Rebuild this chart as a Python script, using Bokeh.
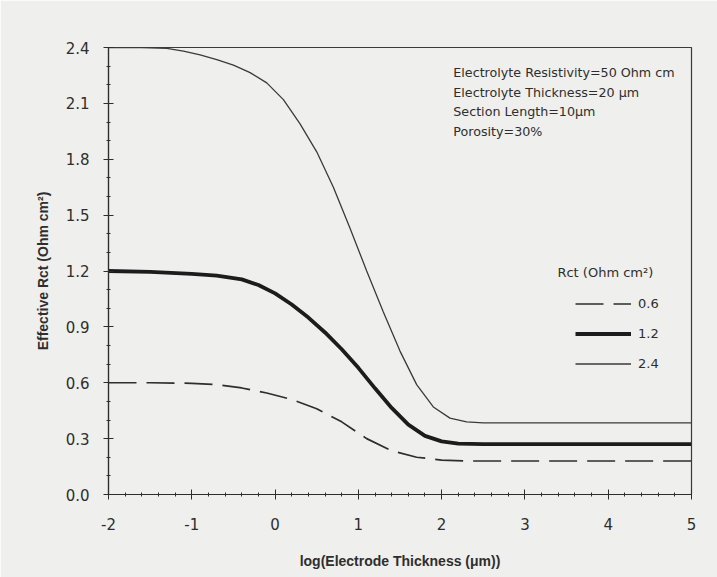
from bokeh.plotting import figure
from bokeh.models import (FixedTicker, Legend, LegendItem, Label, SingleIntervalTicker)
from bokeh.embed import file_html
from bokeh.resources import INLINE

# ---- data ----
x_24 = [-2, -1.6, -1.3, -1.1, -0.9, -0.7, -0.5, -0.3, -0.1, 0.1, 0.3, 0.5, 0.7, 0.9, 1.1, 1.3, 1.5,
        1.7, 1.9, 2.1, 2.3, 2.5, 3, 4, 5]
y_24 = [2.40, 2.40, 2.395, 2.38, 2.36, 2.335, 2.305, 2.265, 2.21, 2.12, 1.99, 1.84, 1.65, 1.43, 1.20,
        0.98, 0.77, 0.59, 0.47, 0.41, 0.39, 0.385, 0.385, 0.385, 0.385]

x_12 = [-2, -1.5, -1.0, -0.7, -0.4, -0.2, 0.0, 0.2, 0.4, 0.6, 0.8, 1.0, 1.2, 1.4, 1.6, 1.8, 2.0,
        2.2, 2.5, 3, 4, 5]
y_12 = [1.20, 1.195, 1.185, 1.175, 1.155, 1.125, 1.08, 1.02, 0.95, 0.87, 0.78, 0.68, 0.57, 0.465,
        0.375, 0.315, 0.285, 0.273, 0.27, 0.27, 0.27, 0.27]

x_06 = [-2, -1.5, -1.0, -0.7, -0.4, -0.1, 0.2, 0.5, 0.8, 1.1, 1.4, 1.7, 2.0, 2.3, 2.6, 3, 4, 5]
y_06 = [0.60, 0.60, 0.597, 0.59, 0.572, 0.545, 0.51, 0.46, 0.39, 0.30, 0.235, 0.20, 0.185, 0.18,
        0.18, 0.18, 0.18, 0.18]

series_labels = ["0.6", "1.2", "2.4"]
x_ticks = [-2, -1, 0, 1, 2, 3, 4, 5]
y_ticks = [0.0, 0.3, 0.6, 0.9, 1.2, 1.5, 1.8, 2.1, 2.4]
y_minor = [i / 10 for i in range(0, 25)]
notes = ["Electrolyte Resistivity=50 Ohm cm",
         "Electrolyte Thickness=20 \u03bcm",
         "Section Length=10\u03bcm",
         "Porosity=30%"]

INK = "#2e2e2e"
BG = "#efefed"
FONT = "Liberation Sans"
FONT2 = "DejaVu Sans"

p = figure(width=717, height=577, x_range=(-2, 5), y_range=(0, 2.4),
           output_backend="svg", toolbar_location=None,
           min_border_left=108, min_border_right=26, min_border_top=47, min_border_bottom=83)
p.background_fill_color = BG
p.border_fill_color = BG
p.outline_line_color = "#3a3a3a"
p.outline_line_width = 1.2
p.grid.visible = False

r06 = p.line(x_06, y_06, line_color=INK, line_width=1.7, line_dash="28 10")
r12 = p.line(x_12, y_12, line_color="#1c1c1c", line_width=3.8)
r24 = p.line(x_24, y_24, line_color="#3a3a3a", line_width=1.3)

# axes
p.xaxis.ticker = SingleIntervalTicker(interval=1, num_minor_ticks=5)
p.yaxis.ticker = FixedTicker(ticks=y_ticks, minor_ticks=y_minor)
for ax in (p.xaxis[0], p.yaxis[0]):
    ax.axis_line_color = INK
    ax.axis_line_width = 1.2
    ax.major_tick_line_color = INK
    ax.minor_tick_line_color = INK
    ax.major_tick_in = 5
    ax.major_tick_out = 5
    ax.minor_tick_in = 2
    ax.minor_tick_out = 2
    ax.major_label_text_font = FONT2
    ax.major_label_text_font_size = "15px"
    ax.major_label_text_color = INK
    ax.axis_label_text_font = FONT
    ax.axis_label_text_font_size = "14px"
    ax.axis_label_text_font_style = "bold"
    ax.axis_label_text_color = INK

p.xaxis.axis_label = "log(Electrode Thickness (\u03bcm))"
p.yaxis.axis_label = "Effective Rct (Ohm cm\u00b2)"
p.xaxis.major_label_standoff = 18
p.xaxis.axis_label_standoff = 20
p.yaxis.major_label_standoff = 14
p.yaxis.axis_label_standoff = 12
p.xaxis.major_label_overrides = {t: str(t) for t in x_ticks}
p.yaxis.major_label_overrides = {t: f"{t:.1f}" for t in y_ticks}

# notes
for i, t in enumerate(notes):
    p.add_layout(Label(x=2.14, y=2.4 - (25 + 19.5 * i) / 186.25, text=t,
                       text_font=FONT2, text_font_size="12.7px", text_color=INK,
                       text_baseline="middle"))

# legend
legend = Legend(items=[LegendItem(label=series_labels[0], renderers=[r06]),
                       LegendItem(label=series_labels[1], renderers=[r12]),
                       LegendItem(label=series_labels[2], renderers=[r24])],
                location=(467, 117), orientation="vertical")
legend.background_fill_alpha = 0
legend.border_line_alpha = 0
legend.padding = 0
legend.margin = 0
legend.spacing = 3
legend.glyph_width = 56
legend.glyph_height = 27
legend.label_height = 27
legend.label_standoff = 7
legend.label_text_font = FONT2
legend.label_text_font_size = "13px"
legend.label_text_color = INK
p.add_layout(legend)

p.add_layout(Label(x=(557 - 108) / 83.3 - 2, y=(494 - 272) / 186.25, text="Rct (Ohm cm\u00b2)",
                   text_font=FONT2, text_font_size="13px", text_color=INK,
                   text_baseline="middle"))

open("out.html", "w").write(file_html(p, INLINE))
